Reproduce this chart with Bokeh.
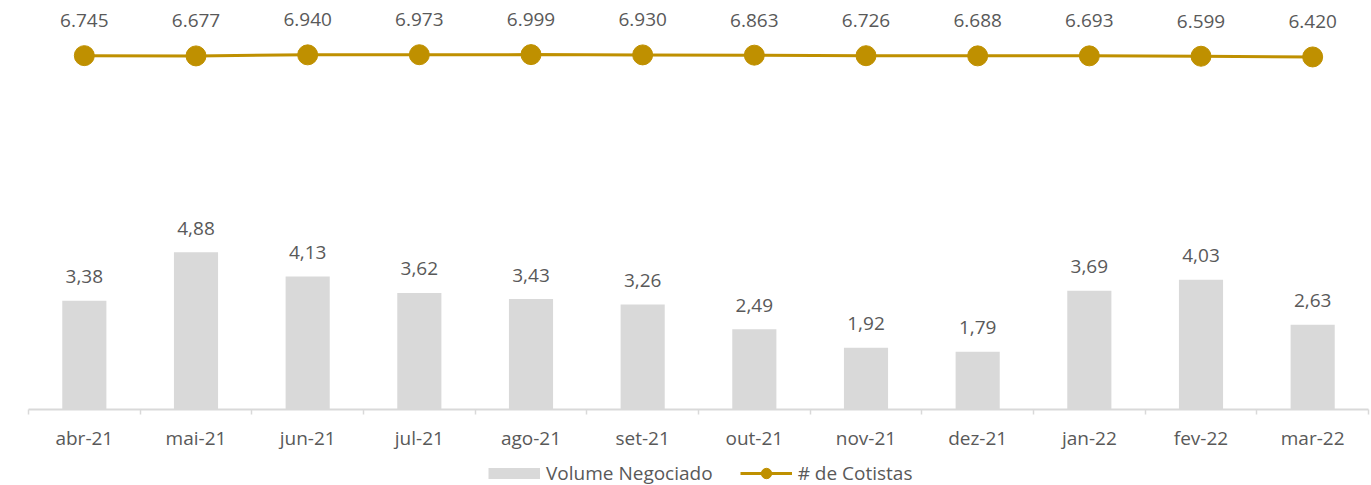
from bokeh.plotting import figure
from bokeh.layouts import column
from bokeh.models import Range1d, FixedTicker, Legend, LegendItem, ColumnDataSource
from bokeh.embed import file_html
from bokeh.resources import INLINE
from bokeh.core.properties import value

categories = ["abr-21", "mai-21", "jun-21", "jul-21", "ago-21", "set-21",
              "out-21", "nov-21", "dez-21", "jan-22", "fev-22", "mar-22"]
volume = [3.38, 4.88, 4.13, 3.62, 3.43, 3.26, 2.49, 1.92, 1.79, 3.69, 4.03, 2.63]
cotistas = [6745, 6677, 6940, 6973, 6999, 6930, 6863, 6726, 6688, 6693, 6599, 6420]
series_names = ["Volume Negociado", "# de Cotistas"]

xs = list(range(len(categories)))
vol_lbl = [f"{v:.2f}".replace(".", ",") for v in volume]
cot_lbl = [f"{v:,}".replace(",", ".") for v in cotistas]
src = ColumnDataSource(dict(x=xs, vol=volume, cot=cotistas, vol_lbl=vol_lbl, cot_lbl=cot_lbl))

GOLD = "#BF9000"
GREY = "#D9D9D9"
TXT = "#595959"
FONT = "Open Sans"
FS = "19px"

p = figure(frame_width=1340, frame_height=401,
           x_range=Range1d(-0.5, len(categories) - 0.5),
           y_range=Range1d(0, 12.45),
           output_backend="svg", toolbar_location=None,
           y_axis_location=None,
           min_border_left=28, min_border_right=3, min_border_top=8, min_border_bottom=0)
p.extra_y_ranges = {"cot": Range1d(-81500, 18500)}
p.grid.visible = False
p.outline_line_color = None

p.vbar(x="x", top="vol", width=0.395, bottom=0, source=src, fill_color=GREY, line_color=None)
p.text(x="x", y="vol", text="vol_lbl", source=src, y_offset=-24,
       text_align="center", text_baseline="alphabetic",
       text_font=value(FONT), text_font_size=FS, text_color=TXT)

p.line(x="x", y="cot", source=src, y_range_name="cot", line_color=GOLD, line_width=3)
p.scatter(x="x", y="cot", source=src, y_range_name="cot", size=20,
          fill_color=GOLD, line_color=GOLD)
p.text(x="x", y="cot", text="cot_lbl", source=src, y_range_name="cot", y_offset=-35,
       text_align="center", text_baseline="alphabetic",
       text_font=value(FONT), text_font_size=FS, text_color=TXT)

ax = p.xaxis[0]
ax.ticker = FixedTicker(ticks=xs, minor_ticks=[i - 0.5 for i in range(len(categories) + 1)])
ax.major_label_overrides = {i: c for i, c in enumerate(categories)}
ax.major_tick_line_color = None
ax.major_tick_out = 0
ax.major_tick_in = 0
ax.minor_tick_out = 5
ax.minor_tick_in = 0
ax.minor_tick_line_color = GREY
ax.minor_tick_line_width = 1.5
ax.axis_line_color = GREY
ax.axis_line_width = 2
ax.major_label_standoff = 10
ax.major_label_text_font = FONT
ax.major_label_text_font_size = FS
ax.major_label_text_color = TXT

# legend strip (swatch renderers sit outside the visible range)
p2 = figure(width=1371, height=35, x_range=Range1d(0, 1), y_range=Range1d(0, 1),
            output_backend="svg", toolbar_location=None,
            x_axis_location=None, y_axis_location=None,
            min_border_left=0, min_border_right=0, min_border_top=0, min_border_bottom=0)
p2.grid.visible = False
p2.outline_line_color = None
off = dict(x=[5, 6], y=[5, 6])
r_bar = p2.line(x=off["x"], y=off["y"], line_color=GREY, line_width=11)
r_line = p2.line(x=off["x"], y=off["y"], line_color=GOLD, line_width=3)
r_pt = p2.scatter(x=off["x"], y=off["y"], size=11, fill_color=GOLD, line_color=GOLD)
legend = Legend(items=[LegendItem(label=series_names[0], renderers=[r_bar]),
                       LegendItem(label=series_names[1], renderers=[r_line, r_pt])],
                orientation="horizontal", location=(460, 2),
                glyph_width=52, glyph_height=26, label_standoff=6, spacing=27,
                padding=0, margin=0, border_line_color=None, background_fill_alpha=0,
                label_text_font=FONT, label_text_font_size=FS, label_text_color=TXT)
p2.add_layout(legend)

layout = column(p, p2, spacing=0)
open("out.html", "w").write(file_html(layout, INLINE))
